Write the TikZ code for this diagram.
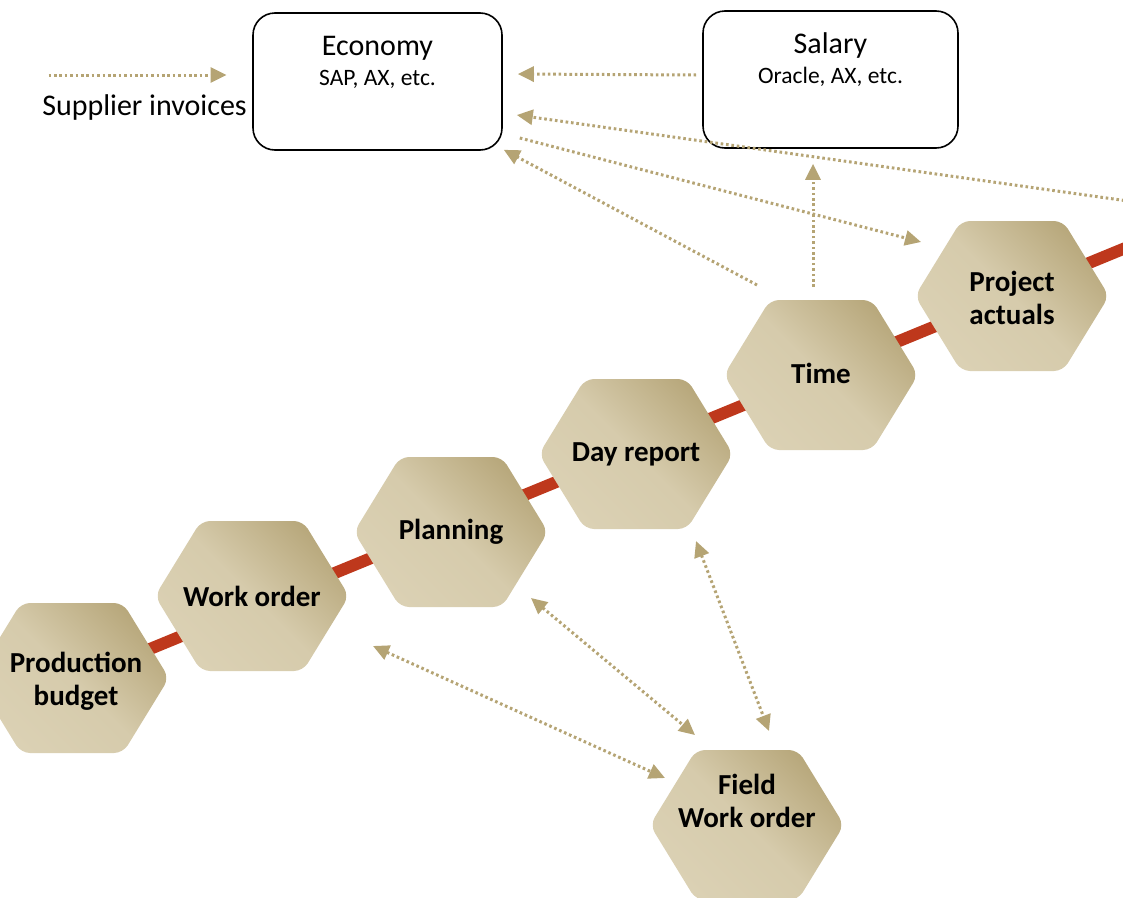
\documentclass[tikz,border=0pt]{standalone}
\usepackage{fontspec}
\setmainfont{Carlito}
\usetikzlibrary{arrows.meta,calc}
\pgfdeclarelayer{background}
\pgfsetlayers{background,main}
\definecolor{gold}{RGB}{181,164,116}
\definecolor{hexdark}{RGB}{184,168,124}
\definecolor{hexlight}{RGB}{219,209,180}
\definecolor{redln}{RGB}{190,56,28}
% name, x, y, text, text offset x, text offset y
\newcommand{\hexnode}[6]{%
  \path[hexshape] (#2-97,#3) -- (#2-51,#3-75) -- (#2+51,#3-75) -- (#2+97,#3) -- (#2+51,#3+75) -- (#2-51,#3+75) -- cycle;
  \node[hextext] (#1) at (#2+#5,#3+#6) {#4};
}
\begin{document}
\begin{tikzpicture}[x=1pt,y=-1pt,
  hexshape/.style={rounded corners=9pt, top color=hexdark, bottom color=hexlight, middle color=hexlight!85!hexdark, shading angle=-45},
  hextext/.style={font=\fontsize{29}{33}\selectfont\bfseries, align=center, text=black, inner sep=0pt},
  sysbox/.style={draw=black, line width=1.6pt, rounded corners=22pt, fill=white},
  flow/.style={draw=gold, line width=3pt, dash pattern=on 2.6pt off 2.8pt, -{Triangle[length=16pt,width=15pt]}},
  flow2/.style={flow, {Triangle[length=16pt,width=15pt]}-{Triangle[length=16pt,width=15pt]}},
  title/.style={font=\fontsize{30}{34}\selectfont, text=black, inner sep=0pt},
  sub/.style={font=\fontsize{23.5}{26}\selectfont, text=black, inner sep=0pt}
]
\useasboundingbox (0,0) rectangle (1123,897);

% system boxes
\node[sysbox, minimum width=249pt, minimum height=137pt] (eco) at (377.5,81.5) {};
\node[title] (ecot) at (377.5,48) {Economy};
\node[sub] (ecos) at (377.5,79) {SAP, AX, etc.};
\node[sysbox, minimum width=255pt, minimum height=137pt] (sal) at (830.5,79.5) {};
\node[title] (salt) at (830.5,46) {Salary};
\node[sub] (sals) at (830.5,77) {Oracle, AX, etc.};
\node[title] (sup) at (144.5,107) {Supplier invoices};

% hexagons
\hexnode{pb}{72}{678}{Production\\budget}{4}{3}
\hexnode{wo}{252}{596}{Work order}{0}{0}
\hexnode{pl}{451}{532}{Planning}{0}{0}
\hexnode{dr}{636}{454}{Day report}{0}{0}
\hexnode{ti}{821}{375}{Time}{0}{-2}
\hexnode{pa}{1012}{296}{Project\\actuals}{0}{2}
\hexnode{fw}{747}{825}{Field\\Work order}{0}{-24}

\coordinate (redend) at (1140,242);
\coordinate (offr) at (1135,202);
\begin{pgfonlayer}{background}
\draw[redln, line width=12pt] ($(pb.center)+(-4,0)$) -- (redend);
\end{pgfonlayer}

% flows
\draw[flow] ($(sup)+(-96,-32)$) -- ($(sup)+(82,-32)$);
\draw[flow] ($(sal.west)+(-6,-4.5)$) -- ($(eco.east)+(15,-7.5)$);
\draw[flow] (offr) -- ($(eco.east)+(14,33.5)$);
\draw[flow] ($(eco.east)+(17,56.5)$) -- ($(pa)+(-91,-56)$);
\draw[flow] ($(ti)+(-64,-88)$) -- ($(eco.south east)+(1,-1)$);
\draw[flow] ($(ti)+(-8,-86)$) -- ($(sal.south)+(-17.5,15)$);
\draw[flow2] ($(wo)+(121,50)$) -- ($(fw)+(-82,-23)$);
\draw[flow2] ($(pl)+(80,66)$) -- ($(fw)+(-52,-66)$);
\draw[flow2] ($(dr)+(60,87)$) -- ($(fw)+(22,-70)$);
\end{tikzpicture}
\end{document}
